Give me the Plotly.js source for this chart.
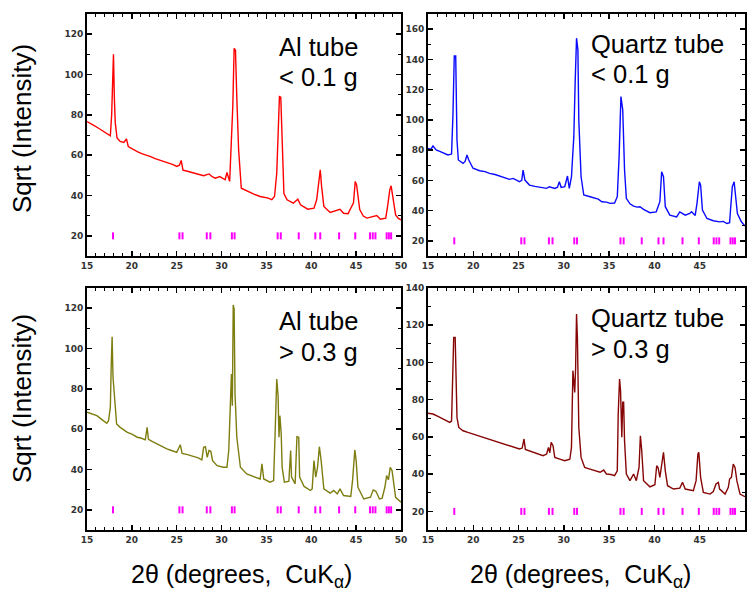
<!DOCTYPE html>
<html>
<head>
<meta charset="utf-8">
<script src="https://cdn.plot.ly/plotly-3.0.1.min.js"></script>
<style>
html,body{margin:0;padding:0;background:#fff;}
#chart{width:750px;height:594px;}
</style>
</head>
<body>
<div id="chart"></div>
<script>
// ---- Data (2θ in degrees, Sqrt(Intensity)) ----
const tlX = [15.0,15.4,15.8,16.2,16.6,17.0,17.3,17.6,17.75,17.85,17.95,18.05,18.15,18.35,18.7,19.1,19.4,19.6,20.0,20.6,21.1,21.6,22.1,22.6,23.2,23.7,24.3,24.6,25.0,25.3,25.5,25.7,26.2,26.9,27.5,28.0,28.6,29.0,29.3,29.8,30.4,30.6,30.9,31.1,31.25,31.4,31.55,31.7,31.9,32.2,32.9,33.6,34.3,35.2,35.6,35.9,36.15,36.3,36.45,36.6,36.75,36.95,37.3,38.0,38.5,38.8,39.6,40.3,40.6,40.85,41.0,41.15,41.4,42.1,42.6,42.9,43.2,43.6,44.1,44.4,44.7,44.9,45.05,45.4,45.8,46.2,46.6,46.9,47.3,47.7,48.0,48.3,48.5,48.75,48.9,49.1,49.4,49.7,50.0];
const tlY = [76.7,75.5,74.6,73.6,72.4,71.0,70.2,69.6,80,105.6,110,88.3,76,68.5,66.8,66.3,68.0,64.3,63.2,61.8,60.8,60.2,59.3,58.3,57.4,56.8,55.7,55.3,54.4,55.0,57.4,52.6,52.0,51.1,50.4,49.8,50.7,49.2,48.6,49.4,47.8,51.4,47.0,67.6,84,113,112,88.3,62.6,43.6,42.0,40.7,39.5,38.7,37.9,39.5,51,73.4,89,88.7,67.6,41,37.9,36.2,38.2,35.4,33.2,33.7,37.9,47.8,52.7,44.5,34.6,31.6,32.3,32.6,33.2,31.2,31.0,33.7,36.2,47.0,45.3,33.0,29.8,28.8,29.3,29.6,30.1,28.2,28.4,28.8,34.5,42.8,44.8,39.5,30.4,28.6,27.9];

const trX = [15.0,15.3,15.55,15.9,16.3,16.66,17.0,17.2,17.6,17.76,17.9,18.06,18.2,18.35,18.87,19.1,19.3,19.5,19.97,20.7,21.3,21.8,22.4,22.9,23.5,24.0,24.4,24.8,25.1,25.35,25.5,25.7,26.2,26.8,27.3,28.1,28.4,29.0,29.3,29.5,29.7,30.1,30.4,30.6,30.84,31.1,31.25,31.4,31.55,31.65,31.9,32.2,32.9,33.4,33.8,34.2,34.7,35.1,35.6,35.9,36.1,36.3,36.5,36.7,36.9,37.3,37.7,38.1,38.4,38.8,39.5,40.2,40.6,40.8,41.0,41.2,41.7,42.45,42.8,43.4,43.9,44.1,44.5,44.7,44.96,45.1,45.3,45.8,46.5,47.2,47.6,48.0,48.3,48.4,48.6,48.8,48.9,49.16,49.6,50.0];
const trY = [81.2,80.5,82.7,80.1,79.2,78.3,77.5,76.8,77.4,104.4,142.3,142.3,86.7,73.5,71.3,72.5,76.8,73.5,68.0,66.4,65.8,64.6,63.9,62.9,61.8,60.7,61.3,60.0,59.1,60.0,66.8,60.2,56.9,56.0,55.4,54.7,55.8,54.7,55.5,59.1,55.4,55.9,62.9,54.7,62.4,88.9,125.3,154.0,146.3,100.0,62.4,50.3,49.2,48.5,47.6,45.9,45.6,44.8,45.0,49.2,75.7,115.4,106.6,66.8,48.1,44.5,43.0,42.3,42.6,40.8,38.6,39.2,45.9,65.7,62.4,42.6,37.0,35.9,39.2,37.0,38.1,39.2,36.8,44.8,59.1,56.9,40.4,34.8,33.3,32.6,32.9,31.5,32.0,40.4,55.8,59.1,53.6,38.1,32.6,29.8];

const blX = [15.0,15.5,16.1,16.6,17.2,17.4,17.6,17.7,17.8,17.9,18.1,18.3,18.7,19.1,19.5,20.0,20.6,21.0,21.5,21.7,21.85,22.3,22.8,23.3,23.9,24.5,25.0,25.4,25.6,26.2,26.9,27.4,27.8,28.0,28.2,28.4,28.6,28.8,29.0,29.5,30.2,30.6,30.8,31.0,31.1,31.2,31.3,31.4,31.5,31.7,32.1,32.8,33.6,34.3,34.5,34.7,35.4,35.8,36.0,36.15,36.3,36.4,36.5,36.65,36.75,37.0,37.5,37.7,37.8,38.2,38.4,38.6,38.7,39.2,39.9,40.1,40.3,40.5,40.7,40.9,41.1,41.4,42.1,42.5,42.9,43.2,43.6,44.4,44.6,44.85,45.0,45.2,45.85,46.6,46.9,47.2,47.6,47.9,48.2,48.4,48.6,48.8,49.0,49.2,49.4,50.0];
const blY = [68.4,67.8,66.7,65.0,62.9,64.2,70.8,91.5,105.8,85.7,75.0,62.6,60.9,59.8,58.4,57.5,56.0,55.6,54.7,60.9,55.0,53.8,52.7,51.6,50.2,49.3,48.5,52.3,48.0,47.4,46.4,45.8,44.8,51.0,51.3,46.0,49.4,49.0,44.4,41.9,41.1,41.1,49.4,70.8,87.3,71.6,121.6,119.5,77.4,56.0,41.1,37.8,36.5,35.3,42.8,35.3,33.7,34.5,62.6,84.9,76.6,56.0,66.7,57.6,41.1,33.7,34.2,49.4,36.2,32.9,56.3,56.0,36.2,31.6,29.6,30.4,44.4,36.2,41.1,51.3,44.4,30.4,28.3,29.6,27.9,30.4,27.1,26.6,34.5,49.7,44.4,31.2,25.4,26.3,29.9,29.2,25.4,25.8,31.2,37.0,34.9,41.1,39.5,33.7,26.2,23.8];

const brX = [15.0,15.55,16.1,16.66,17.0,17.4,17.6,17.7,17.84,18.0,18.06,18.2,18.4,18.87,19.4,19.97,20.5,21.1,21.7,22.2,22.9,23.5,24.0,24.6,25.1,25.4,25.6,25.75,26.6,27.2,27.7,28.1,28.3,28.45,28.6,28.8,29.0,29.55,30.1,30.66,30.84,31.0,31.2,31.3,31.4,31.5,31.65,31.9,32.3,32.7,33.2,34.0,34.4,34.7,35.2,35.6,35.9,36.0,36.15,36.26,36.4,36.5,36.6,36.7,36.9,37.3,37.7,38.0,38.3,38.45,38.6,38.8,39.5,40.05,40.25,40.4,40.6,40.9,41.0,41.2,41.45,42.1,42.8,43.1,43.4,44.3,44.6,44.8,44.9,45.1,45.4,46.15,46.5,46.8,47.06,47.2,47.8,48.16,48.3,48.5,48.7,48.9,49.1,49.45,50.0];
const brY = [72.7,72.3,71.0,69.6,68.8,67.8,68.5,84.8,113.5,113.5,97.4,70.5,65.1,63.3,62.4,61.5,60.9,59.8,59.0,58.3,57.1,56.2,55.3,54.6,53.5,54.0,58.9,53.3,51.7,50.8,49.9,50.8,54.4,51.5,57.1,55.3,49.0,48.1,47.2,48.0,54.4,95.6,83.9,97.4,126.0,112.6,65.1,49.0,43.6,43.0,42.2,41.0,42.2,40.1,39.8,39.2,41.8,72.3,91.1,84.8,59.8,78.6,78.6,58.0,40.1,36.5,40.1,36.5,43.6,60.6,52.6,36.5,33.2,34.3,44.5,43.6,38.3,49.0,51.7,41.8,33.8,32.0,32.5,35.6,32.0,31.1,36.5,50.8,51.7,38.3,30.2,29.3,30.7,34.7,35.6,32.0,29.3,32.9,37.4,38.3,45.4,43.6,36.5,29.3,27.9];

// reference phase peak positions (magenta tick marks)
const refX = [17.9,25.3,25.65,28.35,28.75,31.15,31.45,36.25,36.6,38.6,40.45,41.0,43.1,44.9,46.55,46.85,47.15,48.4,48.65,48.9];
const refLevel = 20;

const panelLabels = [["Al tube","< 0.1 g"],["Quartz tube","< 0.1 g"],["Al tube","> 0.3 g"],["Quartz tube","> 0.3 g"]];
const xTitle = "2θ (degrees,&nbsp; CuK<sub>α</sub>)";
const yTitle = "Sqrt (Intensity)";

// ---- Build ----
const W = 750, H = 594;
const px = v => v / W;
const py = v => 1 - v / H;

const panels = [
  {x: tlX, y: tlY, color: "#ff0000", xa: "x",  ya: "y",  yr: [10,130]},
  {x: trX, y: trY, color: "#0a0aff", xa: "x2", ya: "y2", yr: [10,170]},
  {x: blX, y: blY, color: "#7d7d10", xa: "x3", ya: "y3", yr: [10,130]},
  {x: brX, y: brY, color: "#860505", xa: "x4", ya: "y4", yr: [10,140]}
];

const traces = [];
panels.forEach(p => {
  traces.push({type: "scatter", mode: "lines", x: p.x, y: p.y, xaxis: p.xa, yaxis: p.ya,
    line: {color: p.color, width: 1.4}, hoverinfo: "skip", showlegend: false});
  traces.push({type: "scatter", mode: "markers", x: refX, y: refX.map(() => refLevel), xaxis: p.xa, yaxis: p.ya,
    marker: {symbol: "line-ns", size: 5, color: "#ff00ff", line: {color: "#ff00ff", width: 2}},
    hoverinfo: "skip", showlegend: false});
});

const tickFont = {family: "DejaVu Sans, sans-serif", size: 9, color: "#333333", weight: "bold"};
function xAxis(dom, anchor) {
  return {domain: dom, anchor: anchor, range: [15,50], tick0: 15, dtick: 5, ticks: "inside", ticklen: 5, tickwidth: 1.5,
    tickcolor: "#000", showline: true, linecolor: "#000", linewidth: 2, mirror: "allticks", showgrid: false, zeroline: false,
    tickfont: tickFont, minor: {dtick: 1, ticks: "inside", ticklen: 3, tickwidth: 1, tickcolor: "#000", showgrid: false}};
}
function yAxis(dom, anchor, r) {
  return {domain: dom, anchor: anchor, range: r, tick0: 0, dtick: 20, ticks: "inside", ticklen: 5, tickwidth: 1.5,
    tickcolor: "#000", showline: true, linecolor: "#000", linewidth: 2, mirror: "allticks", showgrid: false, zeroline: false,
    tickfont: tickFont, minor: {dtick: 10, ticks: "inside", ticklen: 3, tickwidth: 1, tickcolor: "#000", showgrid: false}};
}
const xL = [px(87), px(401)], xR = [px(428), px(745)];
const yT = [py(256), py(14)], yB = [py(530), py(288)];

const ann = [];
const labelFont = {family: "Liberation Sans, Arial, sans-serif", size: 25.5, color: "#000"};
const labelPos = [
  {x: 277, y1: 47, y2: 77},
  {x: 589, y1: 44, y2: 74},
  {x: 277, y1: 321, y2: 352},
  {x: 589, y1: 318, y2: 349}
];
panelLabels.forEach((lab, i) => {
  const p = labelPos[i];
  ann.push({xref: "paper", yref: "paper", x: px(p.x), y: py(p.y1), xanchor: "left", yanchor: "middle", text: lab[0], showarrow: false, font: labelFont});
  ann.push({xref: "paper", yref: "paper", x: px(p.x), y: py(p.y2), xanchor: "left", yanchor: "middle", text: lab[1], showarrow: false, font: labelFont});
});
const titleFont = {family: "Liberation Sans, Arial, sans-serif", size: 25, color: "#000"};
[129, 399].forEach(cy => ann.push({xref: "paper", yref: "paper", x: px(22), y: py(cy), xanchor: "center", yanchor: "middle",
  text: yTitle, textangle: -90, showarrow: false, font: Object.assign({}, titleFont, {size: 26})}));
[241, 580].forEach(cx => ann.push({xref: "paper", yref: "paper", x: px(cx), y: py(576), xanchor: "center", yanchor: "middle",
  text: xTitle, showarrow: false, font: titleFont}));

const layout = {
  width: W, height: H, margin: {l: 0, r: 0, t: 0, b: 0},
  paper_bgcolor: "#fff", plot_bgcolor: "#fff", showlegend: false,
  xaxis: xAxis(xL, "y"), yaxis: yAxis(yT, "x", panels[0].yr),
  xaxis2: xAxis(xR, "y2"), yaxis2: yAxis(yT, "x2", panels[1].yr),
  xaxis3: xAxis(xL, "y3"), yaxis3: yAxis(yB, "x3", panels[2].yr),
  xaxis4: xAxis(xR, "y4"), yaxis4: yAxis(yB, "x4", panels[3].yr),
  annotations: ann
};
Plotly.newPlot("chart", traces, layout, {staticPlot: true, displayModeBar: false});
</script>
</body>
</html>
